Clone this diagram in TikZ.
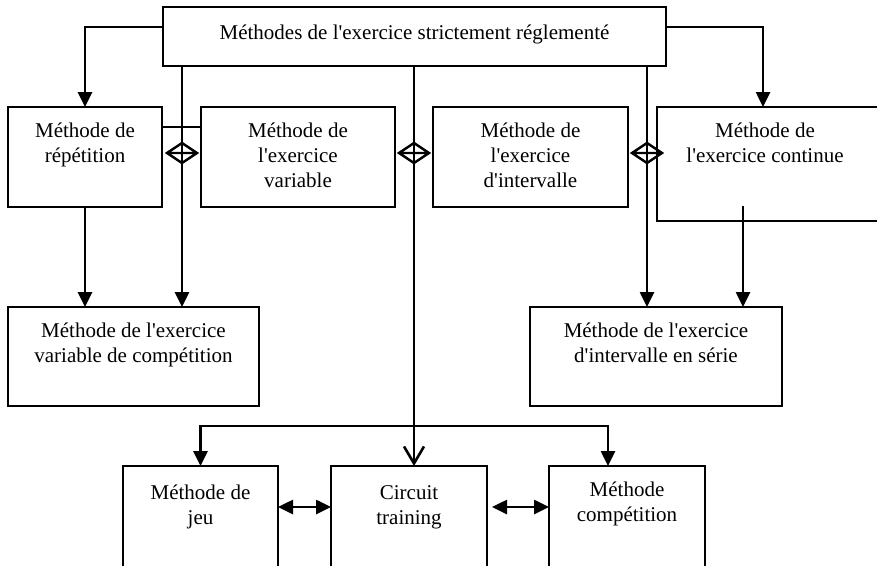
\documentclass[tikz,border=0pt]{standalone}
\usepackage{fontspec}
\setmainfont{Liberation Serif}[Ligatures=TeXOff]
\usetikzlibrary{arrows.meta}
\begin{document}
\begin{tikzpicture}[x=1pt,y=-1pt,
  box/.style={draw,line width=1.8pt,rectangle,inner sep=0pt,outer sep=0pt},
  lbl/.style={align=center,anchor=base,inner sep=0pt,font=\fontsize{21}{25}\selectfont},
  conn/.style={line width=2.6pt},
  arr/.style={conn,-{Triangle[width=14pt,length=15pt]}},
  darr/.style={conn,{Triangle[width=14pt,length=15pt]}-{Triangle[width=14pt,length=15pt]}},
  openarr/.style={conn,-{Straight Barb[width=20pt,length=17pt,line width=2.6pt]}},
  diam/.pic={\draw[line width=2.4pt,line join=miter] (-15,0)--(0,-10)--(15,0)--(0,10)--cycle (-15,0)--(15,0);}
]
\useasboundingbox (0,0) rectangle (877,565);
\clip (0,0) rectangle (877,565);
\fill[white] (0,0) rectangle (877,565);

% boxes
\node[box,minimum width=503pt,minimum height=59pt] (top) at (414.5,36.5) {};
\node[box,minimum width=154pt,minimum height=100pt] (rep) at (85,157) {};
\node[box,minimum width=194pt,minimum height=100pt] (var) at (298,157) {};
\node[box,minimum width=195pt,minimum height=100pt] (int) at (530.5,157) {};
\node[box,minimum width=240pt,minimum height=114pt] (cont) at (777,164) {};
\node[box,minimum width=251pt,minimum height=99pt] (vc) at (133.5,356.5) {};
\node[box,minimum width=252pt,minimum height=99pt] (is) at (656,356.5) {};
\node[box,minimum width=155pt,minimum height=124pt] (jeu) at (200.5,528) {};
\node[box,minimum width=156pt,minimum height=124pt] (circ) at (409,528) {};
\node[box,minimum width=156pt,minimum height=124pt] (comp) at (627,528) {};

% texts (base anchor = baseline of last line)
\node[lbl] (ttop) at (414.5,39) {Méthodes de l'exercice strictement réglementé};
\node[lbl] (trep) at (85,162) {Méthode de\\répétition};
\node[lbl] (tvar) at (298,187) {Méthode de\\l'exercice\\variable};
\node[lbl] (tint) at (530.5,187) {Méthode de\\l'exercice\\d'intervalle};
\node[lbl] (tcont) at (765,162) {Méthode de\\l'exercice continue};
\node[lbl] (tvc) at (133.5,362) {Méthode de l'exercice\\variable de compétition};
\node[lbl] (tis) at (656,362) {Méthode de l'exercice\\d'intervalle en série};
\node[lbl] (tjeu) at (200.5,524) {Méthode de\\jeu};
\node[lbl] (tcirc) at (409,524) {Circuit\\training};
\node[lbl] (tcomp) at (627,521) {Méthode\\compétition};

% connectors
\coordinate (jl) at (85,27);
\coordinate (jr) at (763,27);
\draw[arr] (top.west |- jl) -| (rep.north);
\draw[arr] (top.east |- jr) -| (jr |- cont.north);
\draw[conn] (rep.east |- 0,127) -- (var.west |- 0,127);
\draw[arr] (182,0 |- top.south) -- (182,0 |- vc.north);
\draw[arr] (rep.south) -- (rep.south |- vc.north);
\draw[openarr] (414,0 |- top.south) -- (414,0 |- circ.north);
\coordinate (br) at (414,426);
\draw[arr] (br) -| (jeu.north);
\draw[arr] (br) -| (608,0 |- comp.north);
\draw[arr] (647,0 |- top.south) -- (647,0 |- is.north);
\coordinate (cs) at (743,206);
\draw[arr] (cs) -- (cs |- is.north);
\draw[darr] (jeu.east |- 0,507) -- (circ.west |- 0,507);
\draw[darr,shorten <=5pt] (circ.east |- 0,507) -- (comp.west |- 0,507);

% diamonds
\pic at (182,153) {diam};
\pic at (414,153) {diam};
\pic at (647,153) {diam};
\end{tikzpicture}
\end{document}
